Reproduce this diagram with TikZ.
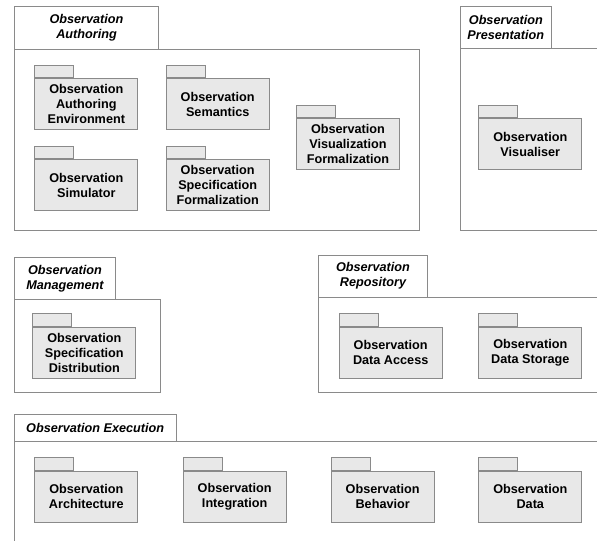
\documentclass[tikz,border=0pt]{standalone}
\usepackage{fontspec}
\setmainfont{Liberation Sans}
\definecolor{edgecol}{HTML}{8A8A8A}
\definecolor{pkgfill}{HTML}{E8E8E8}
\newcommand\mypkgfont{\fontsize{9.5}{11.25}\selectfont\bfseries}
\newcommand\mytitlefont{\fontsize{9.5}{11.25}\selectfont\bfseries\itshape}
\tikzset{
  pkgbody/.style={draw=edgecol, fill=pkgfill, line width=0.75pt, minimum width=77.25pt,
    minimum height=38.25pt, inner sep=0pt, align=center, font=\mypkgfont, anchor=north west},
  pkgtab/.style={draw=edgecol, fill=pkgfill, line width=0.75pt, minimum width=29.25pt,
    minimum height=9.45pt, inner sep=0pt, anchor=south west},
  framebox/.style={draw=edgecol, line width=0.75pt},
  titletext/.style={font=\mytitlefont, align=center, inner sep=0pt}
}
\newcommand\innerpkg[4]{%
  \node[pkgbody] (#1) at (#2,#3) {#4};
  \node[pkgtab] (#1tab) at (#1.north west) {};
}
\begin{document}
\begin{tikzpicture}[x=0.75pt,y=-0.75pt]
\useasboundingbox (0,0) rectangle (597,540);
\clip (0,0) rectangle (597,540);
% Observation Authoring
\draw[framebox] (14.3,6.7) rectangle (158.7,49.3);
\draw[framebox] (14.3,49.3) rectangle (419.3,230);
\node[titletext] (tAuth) at (86.5,28) {Observation\\Authoring};
\innerpkg{ae}{34.3}{78.3}{Observation\\Authoring\\Environment}
\innerpkg{sem}{165.7}{78.3}{Observation\\Semantics}
\innerpkg{sim}{34.3}{159.3}{Observation\\Simulator}
\innerpkg{spf}{165.7}{159.3}{Observation\\Specification\\Formalization}
\innerpkg{vif}{296}{118.3}{Observation\\Visualization\\Formalization}
% Observation Presentation
\draw[framebox] (460,6.7) rectangle (551.7,48.3);
\draw[framebox] (460,48.3) rectangle (620,230);
\node[titletext] (tPres) at (505.85,27.5) {Observation\\Presentation};
\innerpkg{vis}{478.3}{118.3}{Observation\\Visualiser}
% Observation Management
\draw[framebox] (14.3,257.3) rectangle (115.7,299.3);
\draw[framebox] (14.3,299.3) rectangle (160.3,392.3);
\node[titletext] (tMan) at (65,278.3) {Observation\\Management};
\innerpkg{sd}{32.3}{326.7}{Observation\\Specification\\Distribution}
% Observation Repository
\draw[framebox] (318.3,255) rectangle (427.7,297.3);
\draw[framebox] (318.3,297.3) rectangle (620,392.3);
\node[titletext] (tRep) at (373,276.2) {Observation\\Repository};
\innerpkg{da}{338.7}{326.7}{Observation\\Data Access}
\innerpkg{ds}{478.3}{326.7}{Observation\\Data Storage}
% Observation Execution
\draw[framebox] (14.3,414.3) rectangle (176,441);
\draw[framebox] (14.3,441) rectangle (620,560);
\node[titletext] (tExe) at (95.2,427.7) {Observation Execution};
\innerpkg{arch}{34.3}{470.7}{Observation\\Architecture}
\innerpkg{integ}{182.7}{470.7}{Observation\\Integration}
\innerpkg{beh}{330.7}{470.7}{Observation\\Behavior}
\innerpkg{dat}{478.3}{470.7}{Observation\\Data}
\end{tikzpicture}
\end{document}
